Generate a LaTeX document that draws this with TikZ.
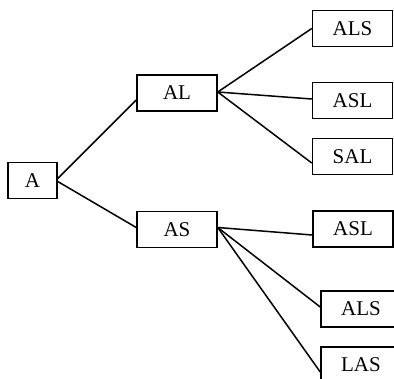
\documentclass[tikz,border=0pt]{standalone}
\usepackage{fontspec}
\setmainfont{Liberation Serif}
\usetikzlibrary{positioning}
\tikzstyle{word} = [draw, line width=1.5pt, minimum width=80pt, minimum height=36pt, inner sep=0pt, font=\fontsize{21}{23}\selectfont]
\tikzstyle{line} = [draw, line width=1.5pt]

\begin{document}
\begin{tikzpicture}[x=1pt,y=-1pt]
    \clip (0,0) rectangle (394,378);

    \node[word, minimum width=49pt] (a) at (32.5,180.5) {A};
    \node[word] (al) at (177,93) {AL};
    \node[word] (as) at (177,229.5) {AS};

    \node[word] (al_als) at (352.5,28.5) {ALS};
    \node[word] (al_asl) at (352.5,100.5) {ASL};
    \node[word] (al_sal) at (352.5,156.5) {SAL};

    \node[word] (as_asl) at (353,229) {ASL};
    \node[word] (as_als) at (361,309) {ALS};
    \node[word] (as_las) at (361,365) {LAS};

    \path[line] ([yshift=2pt]a.east) -- ([yshift=-7pt]al.west);
    \path[line] ([yshift=-1pt]a.east) -- ([yshift=2pt]as.west);

    \foreach \t/\dy in {al_als/0, al_asl/1.5, al_sal/-6.5}
    {
        \path[line] ([yshift=1pt]al.east) -- ([yshift=\dy pt]\t.west);
    };
    \foreach \t/\dy in {as_asl/-6, as_als/2, as_las/-7}
    {
        \path[line] ([yshift=2pt]as.east) -- ([yshift=\dy pt]\t.west);
    };
\end{tikzpicture}
\end{document}
